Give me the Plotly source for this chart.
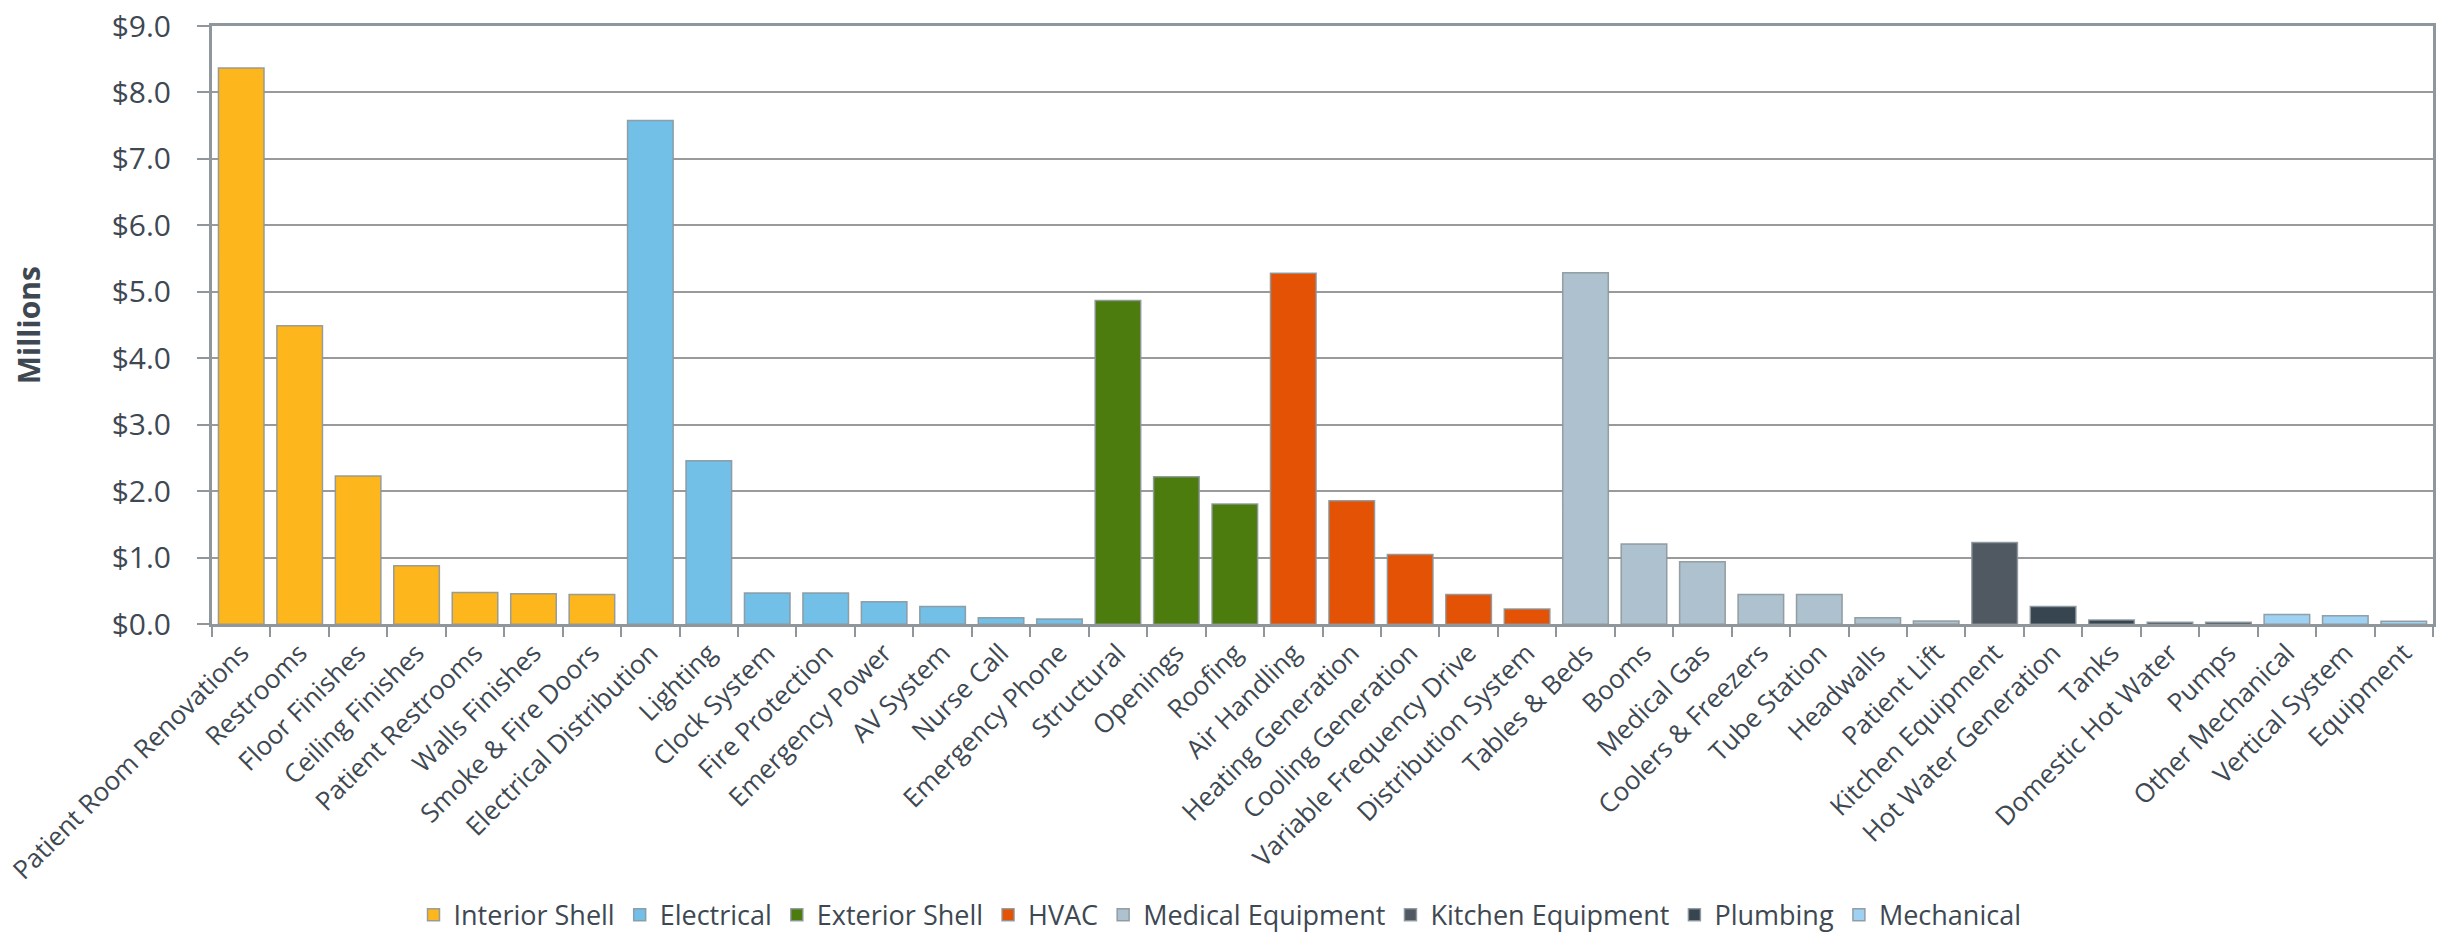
import plotly.graph_objects as go

interior_cats = ["Patient Room Renovations", "Restrooms", "Floor Finishes", "Ceiling Finishes",
                 "Patient Restrooms", "Walls Finishes", "Smoke & Fire Doors"]
interior_vals = [8.37, 4.49, 2.23, 0.88, 0.48, 0.46, 0.45]

electrical_cats = ["Electrical Distribution", "Lighting", "Clock System", "Fire Protection",
                   "Emergency Power", "AV System", "Nurse Call", "Emergency Phone"]
electrical_vals = [7.58, 2.46, 0.47, 0.47, 0.34, 0.27, 0.10, 0.08]

exterior_cats = ["Structural", "Openings", "Roofing"]
exterior_vals = [4.87, 2.22, 1.81]

hvac_cats = ["Air Handling", "Heating Generation", "Cooling Generation",
             "Variable Frequency Drive", "Distribution System"]
hvac_vals = [5.28, 1.86, 1.05, 0.45, 0.23]

medical_cats = ["Tables & Beds", "Booms", "Medical Gas", "Coolers & Freezers",
                "Tube Station", "Headwalls", "Patient Lift"]
medical_vals = [5.29, 1.21, 0.94, 0.45, 0.45, 0.10, 0.05]

kitchen_cats = ["Kitchen Equipment"]
kitchen_vals = [1.23]

plumbing_cats = ["Hot Water Generation", "Tanks", "Domestic Hot Water", "Pumps"]
plumbing_vals = [0.27, 0.065, 0.03, 0.03]

mechanical_cats = ["Other Mechanical", "Vertical System", "Equipment"]
mechanical_vals = [0.15, 0.13, 0.045]

y_ticks = [0, 1, 2, 3, 4, 5, 6, 7, 8, 9]
y_ticktext = ["$0.0", "$1.0", "$2.0", "$3.0", "$4.0", "$5.0", "$6.0", "$7.0", "$8.0", "$9.0"]

groups = [
    ("Interior Shell", interior_cats, interior_vals, "#FDB71C"),
    ("Electrical", electrical_cats, electrical_vals, "#72C0E8"),
    ("Exterior Shell", exterior_cats, exterior_vals, "#4D7C0E"),
    ("HVAC", hvac_cats, hvac_vals, "#E35205"),
    ("Medical Equipment", medical_cats, medical_vals, "#ADC2CE"),
    ("Kitchen Equipment", kitchen_cats, kitchen_vals, "#505862"),
    ("Plumbing", plumbing_cats, plumbing_vals, "#36454F"),
    ("Mechanical", mechanical_cats, mechanical_vals, "#9FD2F2"),
]

all_cats = []
for g in groups:
    all_cats += g[1]

fig = go.Figure()
for name, cats, vals, color in groups:
    fig.add_trace(go.Bar(
        x=cats, y=vals, name=name,
        marker=dict(color=color, line=dict(color="rgba(140,150,155,0.9)", width=1.5)),
    ))

gray = "#8F979C"
txt = "#3E4852"
fig.update_layout(
    width=2440, height=933,
    paper_bgcolor="white", plot_bgcolor="white",
    margin=dict(l=199, r=4, t=22, b=303),
    barmode="relative", bargap=0.22,
    font=dict(family="Open Sans", color=txt),
    legend=dict(orientation="h", xref="container", x=0.5, xanchor="center",
                yref="container", y=0.019, yanchor="middle",
                font=dict(size=27, color=txt), itemwidth=30, traceorder="normal"),
    xaxis=dict(categoryorder="array", categoryarray=all_cats, range=[-0.5, len(all_cats) - 0.5],
               tickangle=-45, tickfont=dict(size=26, color=txt),
               showline=True, linecolor=gray, linewidth=3, mirror=True,
               ticks="outside", tickson="boundaries", ticklen=10, tickcolor=gray, tickwidth=2,
               showgrid=False),
    yaxis=dict(range=[0, 9], tickmode="array", tickvals=y_ticks, ticktext=y_ticktext,
               tickfont=dict(size=30, color=txt), ticklabelstandoff=20,
               showline=True, linecolor=gray, linewidth=3, mirror=True,
               ticks="outside", ticklen=12, tickcolor=gray, tickwidth=2,
               showgrid=True, gridcolor="#9A9A9A", gridwidth=2,
               title=dict(text="<b>Millions</b>", font=dict(size=30, color=txt), standoff=63)),
)

fig.write_html("out.html")
